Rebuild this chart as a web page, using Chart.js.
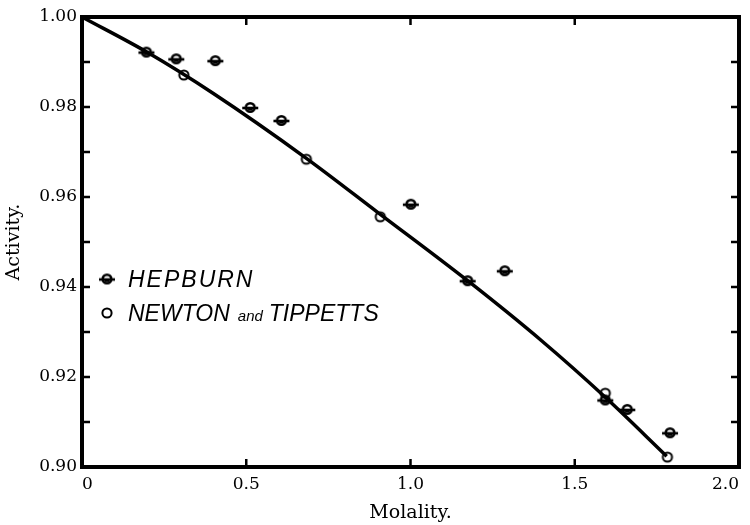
<!DOCTYPE html>
<html>
<head>
<meta charset="utf-8">
<title>Activity vs Molality</title>
<script src="https://cdn.jsdelivr.net/npm/chart.js@4"></script>
<style>
  html, body { margin: 0; padding: 0; background: #fff; }
  #wrap { width: 750px; height: 525px; position: relative; }
</style>
</head>
<body>
<div id="wrap"><canvas id="activity-chart"></canvas></div>
<script>
// Data
const hepburnMolality = [0.196, 0.287, 0.406, 0.512, 0.607, 1.001, 1.174, 1.287, 1.593, 1.660, 1.790];
const hepburnActivity = [0.9922, 0.9907, 0.9903, 0.9799, 0.9770, 0.9584, 0.9414, 0.9436, 0.9149, 0.9128, 0.9076];

const newtonMolality = [0.310, 0.683, 0.908, 1.593, 1.782];
const newtonActivity = [0.9871, 0.9684, 0.9556, 0.9164, 0.9022];

const curveMolality = [0, 0.2, 0.4, 0.683, 0.9, 1.174, 1.4, 1.593, 1.78];
const curveActivity = [1.000, 0.9921, 0.9830, 0.9686, 0.9566, 0.9414, 0.9280, 0.9155, 0.9024];

const xTickValues = [0, 0.5, 1.0, 1.5, 2.0];
const xTickLabels = ['0', '0.5', '1.0', '1.5', '2.0'];
const yTickValues = [0.90, 0.92, 0.94, 0.96, 0.98, 1.00];
const yTickLabels = ['0.90', '0.92', '0.94', '0.96', '0.98', '1.00'];

const legendLabels = ['HEPBURN', 'NEWTON and TIPPETTS'];

function toPoints(xs, ys) {
  return xs.map((x, i) => ({ x: x, y: ys[i] }));
}

function labelFor(values, labels, value) {
  const i = values.findIndex(v => Math.abs(v - value) < 1e-6);
  return i >= 0 ? labels[i] : '';
}

// marker: circle with a bar through it
function makeHepburnMarker() {
  const c = document.createElement('canvas');
  c.width = 18; c.height = 13;
  const g = c.getContext('2d');
  g.strokeStyle = '#000';
  g.fillStyle = '#000';
  g.lineWidth = 2.6;
  g.beginPath();
  g.moveTo(1, 7); g.lineTo(17, 7);
  g.stroke();
  g.lineWidth = 2.6;
  g.beginPath();
  g.arc(9, 6.5, 4.3, 0, Math.PI * 2);
  g.stroke();
  g.beginPath();
  g.arc(9, 7, 2.6, 0, Math.PI);
  g.fill();
  return c;
}

// marker: open circle
function makeNewtonMarker() {
  const c = document.createElement('canvas');
  c.width = 14; c.height = 14;
  const g = c.getContext('2d');
  g.strokeStyle = '#000';
  g.lineWidth = 2;
  g.beginPath();
  g.arc(7, 7, 4.6, 0, Math.PI * 2);
  g.stroke();
  return c;
}

const hepburnMarker = makeHepburnMarker();
const newtonMarker = makeNewtonMarker();

// frame and inward tick marks
const framePlugin = {
  id: 'frame',
  afterDraw(chart) {
    const { ctx, chartArea } = chart;
    const xScale = chart.scales.x;
    const yScale = chart.scales.y;
    const tick = 8;
    ctx.save();
    ctx.strokeStyle = '#000';
    ctx.lineWidth = 2.5;
    ctx.beginPath();
    yScale.ticks.forEach(t => {
      if (t.value <= yScale.min + 1e-6 || t.value >= yScale.max - 1e-6) return;
      const py = yScale.getPixelForValue(t.value);
      ctx.moveTo(chartArea.left, py); ctx.lineTo(chartArea.left + tick, py);
      ctx.moveTo(chartArea.right, py); ctx.lineTo(chartArea.right - tick, py);
    });
    xScale.ticks.forEach(t => {
      if (t.value <= xScale.min + 1e-6 || t.value >= xScale.max - 1e-6) return;
      const px = xScale.getPixelForValue(t.value);
      ctx.moveTo(px, chartArea.bottom); ctx.lineTo(px, chartArea.bottom - tick);
      ctx.moveTo(px, chartArea.top); ctx.lineTo(px, chartArea.top + tick);
    });
    ctx.stroke();
    ctx.lineWidth = 4;
    ctx.strokeRect(chartArea.left, chartArea.top,
      chartArea.right - chartArea.left, chartArea.bottom - chartArea.top);
    ctx.restore();
  }
};

// legend drawn inside the plot
const legendPlugin = {
  id: 'insideLegend',
  afterDraw(chart) {
    const { ctx } = chart;
    const markers = [hepburnMarker, newtonMarker];
    const x0 = 107;
    const rowY = [279, 313];
    ctx.save();
    ctx.fillStyle = '#000';
    ctx.textBaseline = 'alphabetic';
    legendLabels.forEach((text, i) => {
      const m = markers[i];
      ctx.drawImage(m, x0 - m.width / 2, rowY[i] - m.height / 2);
      const base = rowY[i] + 8;
      let x = 128;
      const parts = text.split(' and ');
      parts.forEach((part, j) => {
        ctx.font = 'italic 23px "Liberation Sans", Arial, sans-serif';
        ctx.letterSpacing = i === 0 ? '2px' : '0px';
        ctx.fillText(part, x, base);
        x += ctx.measureText(part).width;
        if (j < parts.length - 1) {
          ctx.font = 'italic 15px "Liberation Sans", Arial, sans-serif';
          ctx.letterSpacing = '0px';
          x += 8;
          ctx.fillText('and', x, base);
          x += ctx.measureText('and').width + 6;
        }
      });
    });
    ctx.restore();
  }
};

const ctx = document.getElementById('activity-chart').getContext('2d');

new Chart(ctx, {
  type: 'scatter',
  data: {
    datasets: [
      {
        label: legendLabels[0],
        data: toPoints(hepburnMolality, hepburnActivity),
        pointStyle: hepburnMarker,
        showLine: false,
        clip: false
      },
      {
        label: legendLabels[1],
        data: toPoints(newtonMolality, newtonActivity),
        pointStyle: newtonMarker,
        showLine: false,
        clip: false
      },
      {
        label: 'curve',
        data: toPoints(curveMolality, curveActivity),
        showLine: true,
        pointRadius: 0,
        borderColor: '#000',
        borderWidth: 3.5,
        cubicInterpolationMode: 'monotone',
        clip: false
      }
    ]
  },
  options: {
    responsive: true,
    maintainAspectRatio: false,
    animation: false,
    layout: { padding: { top: 17, right: 11, left: 0, bottom: 0 } },
    plugins: {
      legend: { display: false },
      tooltip: { enabled: false }
    },
    scales: {
      x: {
        type: 'linear',
        min: 0,
        max: 2,
        grid: { display: false, drawTicks: false },
        border: { display: false },
        ticks: {
          stepSize: 0.5,
          padding: 7,
          align: 'inner',
          color: '#000',
          font: { family: '"DejaVu Serif", serif', size: 17 },
          maxRotation: 0,
          callback: value => labelFor(xTickValues, xTickLabels, value)
        },
        title: {
          display: true,
          text: 'Molality.',
          color: '#000',
          font: { family: '"DejaVu Serif", serif', size: 19 },
          padding: { top: 0, bottom: 1 }
        },
        afterFit(scale) {
          scale.height = 58;
          scale.paddingLeft = 0;
          scale.paddingRight = 0;
        }
      },
      y: {
        type: 'linear',
        min: 0.9,
        max: 1.0,
        grid: { display: false, drawTicks: false },
        border: { display: false },
        ticks: {
          stepSize: 0.01,
          padding: 5,
          autoSkip: false,
          color: '#000',
          font: { family: '"DejaVu Serif", serif', size: 17 },
          callback: value => labelFor(yTickValues, yTickLabels, value)
        },
        title: {
          display: true,
          text: 'Activity.',
          color: '#000',
          font: { family: '"DejaVu Serif", serif', size: 19 },
          padding: { top: 3, bottom: 0 }
        },
        afterFit(scale) {
          scale.width = 82;
          scale.paddingTop = 0;
          scale.paddingBottom = 0;
        }
      }
    }
  },
  plugins: [framePlugin, legendPlugin]
});
</script>
</body>
</html>
